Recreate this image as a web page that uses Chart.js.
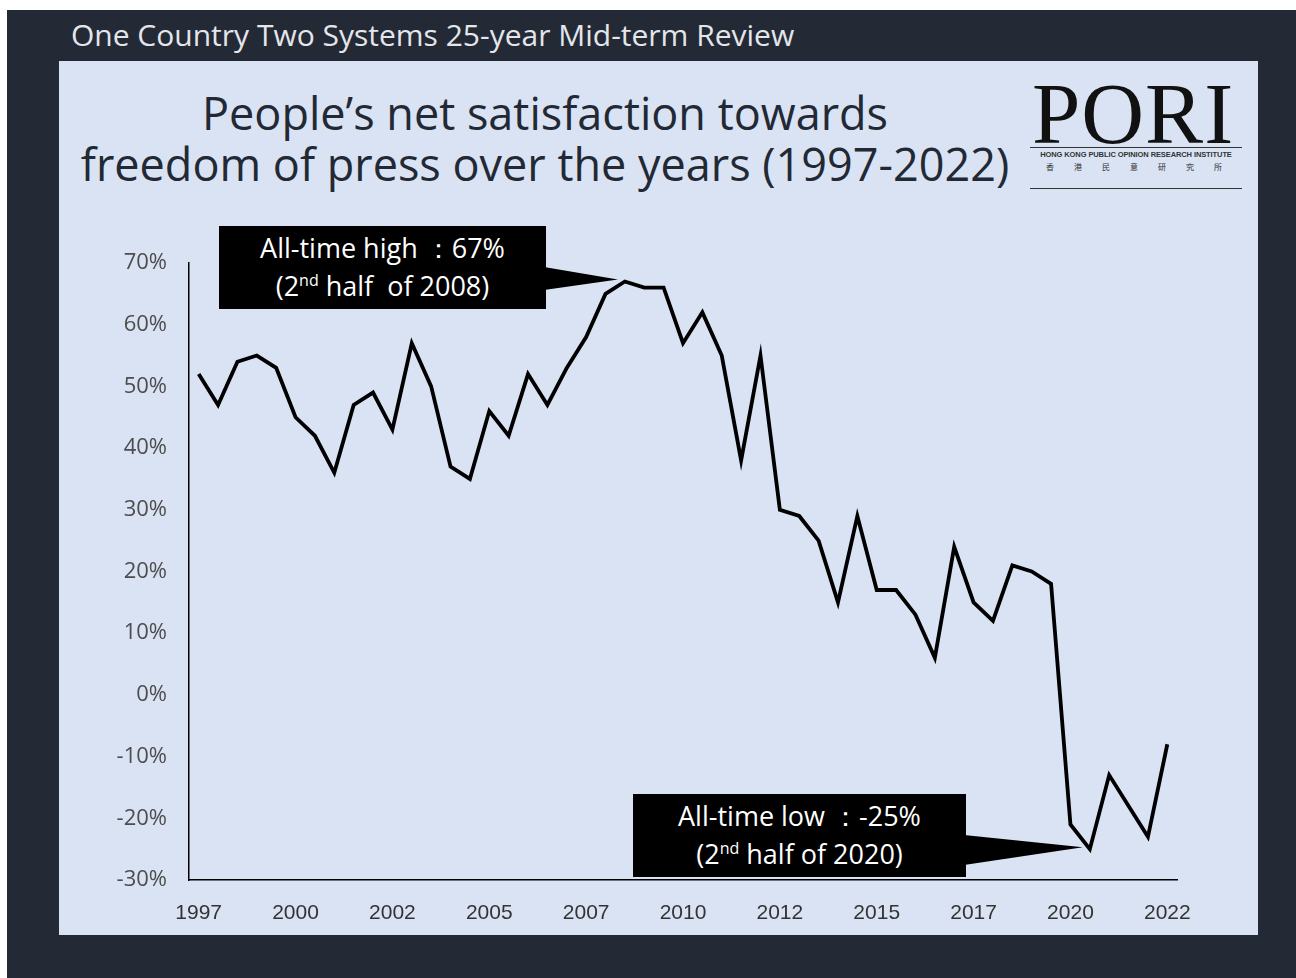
<!DOCTYPE html>
<html>
<head>
<meta charset="utf-8">
<script src="https://cdn.jsdelivr.net/npm/chart.js@4.4.1/dist/chart.umd.min.js"></script>
<style>
  body { margin: 0; background: #ffffff; }
  #page { position: absolute; left: 7px; top: 10px; width: 1289px; height: 968px; background: #232a36; }
  #panel { position: absolute; left: 59px; top: 61px; width: 1199px; height: 874px; background: #dae3f3; }
  #header { position: absolute; left: 71px; top: 16px; font-family: "Open Sans", sans-serif; font-size: 30px; line-height: 38px; color: #e4e6ea; white-space: nowrap; }
  #title { position: absolute; left: 45px; width: 1000px; top: 87px; text-align: center; font-family: "Open Sans", sans-serif; font-size: 45px; line-height: 51px; color: #222935; white-space: nowrap; }
  #logo { position: absolute; left: 1018px; top: 71px; width: 230px; text-align: center; color: #111; }
  #logo .big { font-family: "Liberation Serif", serif; font-size: 87px; line-height: 86px; letter-spacing: 1px; }
  #logo .rule { position: absolute; left: 12px; width: 212px; height: 1px; background: #333; }
  #logo .en { position: absolute; left: 12px; width: 212px; top: 79px; font-family: "Liberation Sans Narrow", "Liberation Sans", sans-serif; font-size: 7.5px; font-weight: bold; letter-spacing: -0.1px; color: #333; text-align: center; white-space: nowrap; }
  #logo .zh { position: absolute; left: 20px; width: 212px; top: 90px; font-family: "Noto Sans CJK TC", sans-serif; font-size: 8px; letter-spacing: 20px; color: #333; white-space: nowrap; }
  .callout { position: absolute; background: #000; color: #fff; font-family: "Open Sans", sans-serif; font-size: 27px; line-height: 38px; text-align: center; box-sizing: border-box; padding-top: 3px; white-space: nowrap; z-index: 2; }
  .callout sup { font-size: 16px; vertical-align: 10px; line-height: 0; }
  #wrap { position: absolute; left: 0; top: 0; width: 1296px; height: 978px; z-index: 1; }
</style>
</head>
<body>
<div id="page"></div>
<div id="panel"></div>
<div id="header">One Country Two Systems 25-year Mid-term Review</div>
<div id="title">People’s net satisfaction towards<br>freedom of press over the years (1997-2022)</div>
<div id="logo">
  <div class="big">PORI</div>
  <div class="rule" style="top:76px"></div>
  <div class="en">HONG KONG PUBLIC OPINION RESEARCH INSTITUTE</div>
  <div class="zh">香港民意研究所</div>
  <div class="rule" style="top:117px"></div>
</div>
<div id="wrap"><canvas id="line-chart"></canvas></div>
<script>
// half-yearly surveys, 2nd half of 1997 to 2nd half of 2022
periods = ['1997 H2',
  '1998 H1','1998 H2','1999 H1','1999 H2','2000 H1','2000 H2','2001 H1','2001 H2','2002 H1','2002 H2',
  '2003 H1','2003 H2','2004 H1','2004 H2','2005 H1','2005 H2','2006 H1','2006 H2','2007 H1','2007 H2',
  '2008 H1','2008 H2','2009 H1','2009 H2','2010 H1','2010 H2','2011 H1','2011 H2','2012 H1','2012 H2',
  '2013 H1','2013 H2','2014 H1','2014 H2','2015 H1','2015 H2','2016 H1','2016 H2','2017 H1','2017 H2',
  '2018 H1','2018 H2','2019 H1','2019 H2','2020 H1','2020 H2','2021 H1','2021 H2','2022 H1','2022 H2'];

netSatisfaction = [52,
  47,54,55,53,45,42,36,47,49,43,
  57,50,37,35,46,42,52,47,53,58,
  65,67,66,66,57,62,55,38,55,30,
  29,25,15,29,17,17,13,6,24,15,
  12,21,20,18,-21,-25,-13,-18,-23,-8];

yTicks = [-30,-20,-10,0,10,20,30,40,50,60,70];

callouts = [
  {lines: ['All-time high ：67%', '(2<sup>nd</sup> half&nbsp; of 2008)'], box: [219, 226, 327, 83], base: [267, 290], pick: 'max'},
  {lines: ['All-time low ：-25%', '(2<sup>nd</sup> half of 2020)'], box: [633, 794, 333, 83], base: [835, 865], pick: 'min'}
];

callouts.forEach((c)=>{
  d = document.createElement('div');
  d.className = 'callout';
  d.style.left = c.box[0] + 'px';
  d.style.top = c.box[1] + 'px';
  d.style.width = c.box[2] + 'px';
  d.style.height = c.box[3] + 'px';
  d.innerHTML = c.lines.join('<br>');
  document.body.appendChild(d);
});

const pointerPlugin = {
  id: 'pointers',
  afterDatasetsDraw(chart) {
    const ctx = chart.ctx;
    const meta = chart.getDatasetMeta(0);
    callouts.forEach((c)=>{
      const v = c.pick == 'max' ? Math.max(...netSatisfaction) : Math.min(...netSatisfaction);
      const pt = meta.data[netSatisfaction.indexOf(v)];
      const bx = c.box[0] + c.box[2] - 2;
      ctx.save();
      ctx.fillStyle = '#000';
      ctx.beginPath();
      ctx.moveTo(bx, c.base[0]);
      ctx.lineTo(pt.x - 7, pt.y - 2);
      ctx.lineTo(bx, c.base[1]);
      ctx.closePath();
      ctx.fill();
      ctx.restore();
    });
  }
};

new Chart(document.getElementById('line-chart'), {
  type: 'line',
  data: {
    labels: periods,
    datasets: [{
      data: netSatisfaction,
      borderColor: '#000000',
      borderWidth: 3.8,
      borderJoinStyle: 'miter',
      pointRadius: 0,
      tension: 0,
      fill: false
    }]
  },
  options: {
    responsive: true,
    maintainAspectRatio: false,
    animation: false,
    layout: { padding: { left: 79, top: 263, right: 119, bottom: 38 } },
    plugins: { legend: { display: false }, tooltip: { enabled: false } },
    scales: {
      x: {
        offset: true,
        grid: { display: false, drawTicks: false },
        border: { display: true, color: '#000', width: 1.5 },
        afterFit: (s) => { s.height = 60; },
        ticks: {
          autoSkip: false, maxRotation: 0, padding: 21,
          color: '#333333',
          font: { family: '"Liberation Sans", sans-serif', size: 21 },
          callback: (val, i) => i % 5 == 0 ? periods[i].slice(0, 4) : ''
        }
      },
      y: {
        min: -30, max: 70,
        grid: { display: false, drawTicks: false },
        border: { display: true, color: '#000', width: 1.5 },
        afterFit: (s) => { s.width = 110; },
        afterBuildTicks: (s) => { s.ticks = yTicks.map((v) => ({ value: v })); },
        ticks: {
          padding: 22,
          color: '#4d4d4d',
          font: { family: '"Open Sans", sans-serif', size: 22 },
          callback: (v) => v + '%'
        }
      }
    }
  },
  plugins: [pointerPlugin]
});
</script>
</body>
</html>
